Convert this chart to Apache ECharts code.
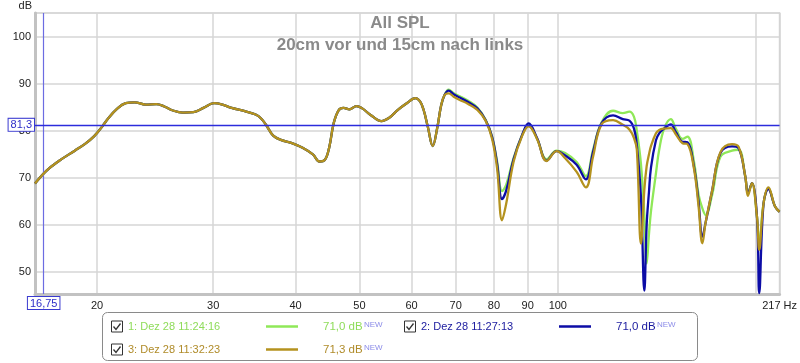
<!DOCTYPE html>
<html><head><meta charset="utf-8">
<script src="https://cdn.jsdelivr.net/npm/echarts@6/dist/echarts.min.js"></script>
<style>html,body{margin:0;padding:0;background:#fff}#c{width:800px;height:363px}</style>
</head><body><div id="c"></div>
<script>
// Frequencies (Hz)
const freqHz = [
  16.1, 16.75, 17.5, 18.5, 19.2, 19.8, 20.3, 20.8, 21.4, 22.1, 22.8, 23.7, 24.6, 25.3, 26.0, 27.0, 28.0, 29.0, 30.1, 31.0,
  32.0, 33.5, 34.8, 35.5, 36.2, 37.0, 38.0, 39.5, 41.0, 42.5, 43.5, 44.3, 45.0, 45.7, 46.5, 47.3, 48.3, 49.5, 50.5, 52.0,
  54.0, 55.5, 57.2, 59.0, 60.8, 61.8, 62.6, 63.5, 64.6, 65.6, 66.5, 67.3,
  68.3, 69.5, 71.0, 73.0, 75.5, 77.7, 79.5, 80.9, 82.3, 83.5, 85.7, 88.2, 90.3, 93.0, 96.2, 99.6, 102.6, 106.8, 110.3, 113.1,
  116.5, 121.3, 125.5, 128.4, 130.5, 131.8, 133.7, 135.3, 136.4, 137.5, 138.5, 140.9, 142.5, 145.0, 148.4, 151.0, 154.6, 157.3,
  160.9, 163.5, 165.7, 167.6, 171.5, 176.5, 183.8, 188.1, 192.5, 194.3, 197.0, 200.5, 202.1, 205.2, 208.7, 213.6, 217
];
// SPL below ~68 Hz (all three measurements coincide)
const commonSPL = [
  68.8, 71.5, 73.6, 75.8, 77.3, 78.9, 80.7, 82.7, 84.6, 85.9, 86.1, 85.6, 85.7, 85.2, 84.4, 83.9, 84.0, 84.9, 85.9, 85.6,
  84.9, 84.2, 83.5, 82.6, 81.0, 79.0, 78.1, 77.4, 76.4, 75.0, 73.5, 73.8, 76.5, 81.6, 84.4, 84.9, 84.6, 85.3, 84.8, 83.4,
  82.1, 82.8, 84.5, 85.9, 87.0, 86.3, 84.4, 80.9, 76.8, 80.5, 85.3, 87.6
];
// SPL from 68 Hz upward, per measurement
const spl1High = [ // 1: Dez 28 11:24:16 (green)
  88.8, 88.0, 87.4, 86.5, 85.0, 82.4, 78.8, 73.5, 67.2, 68.5, 74.3, 79.0, 81.4, 78.4, 74.0, 75.8, 75.3, 73.4, 70.4, 76.0,
  81.8, 84.3, 83.8, 84.1, 83.0, 80.0, 73.0, 62.0, 51.8, 58.0, 63.0, 71.0, 76.0, 80.5, 82.5, 80.5, 78.3, 78.8, 73.5, 66.5,
  63.5, 62.1, 66.5, 74.5, 75.8, 76.0, 70.3, 66.8, 68.9, 61.8, 56.0, 64.6, 67.8, 63.9, 62.8
];
const spl2High = [ // 2: Dez 28 11:27:13 (blue)
  88.6, 87.8, 87.1, 86.2, 84.8, 82.3, 78.7, 73.0, 65.5, 67.3, 74.0, 79.0, 81.6, 78.5, 73.7, 75.7, 74.8, 72.8, 69.7, 75.5,
  81.6, 83.3, 82.5, 82.2, 80.5, 77.0, 66.0, 46.0, 60.0, 67.0, 72.3, 78.0, 79.5, 80.5, 81.4, 79.8, 77.7, 77.6, 72.4, 65.0,
  57.5, 60.5, 67.4, 75.3, 76.7, 76.3, 70.3, 66.7, 68.9, 61.8, 45.5, 64.6, 67.6, 63.9, 62.8
];
const spl3High = [ // 3: Dez 28 11:32:23 (gold)
  88.0, 87.3, 86.6, 85.8, 84.5, 82.2, 78.3, 72.0, 61.0, 64.5, 73.5, 78.8, 81.0, 78.3, 73.6, 75.7, 74.2, 71.3, 68.0, 74.5,
  81.4, 82.3, 81.3, 80.3, 78.5, 76.0, 56.0, 67.5, 72.5, 75.0, 76.8, 79.5, 80.2, 80.5, 80.6, 79.3, 77.4, 77.2, 72.0, 64.0,
  56.1, 60.5, 67.4, 75.5, 77.2, 76.6, 70.3, 66.2, 68.9, 61.8, 54.7, 64.6, 68.0, 63.9, 62.8
];
const xGridHz = [20, 30, 40, 50, 60, 70, 80, 90, 100, 200, 217];
const xLabelHz = [20, 30, 40, 50, 60, 70, 80, 90, 100, 217];
const yTicks = [50, 60, 70, 80, 90, 100];
const xRangeHz = [16.1, 217];
const yRange = [45.3, 105.1];
const cursorHz = 16.75;
const cursorDb = 81.3;
const seriesNames = ['1: Dez 28 11:24:16', '2: Dez 28 11:27:13', '3: Dez 28 11:32:23'];
const seriesLevels = ['71,0 dB', '71,0 dB', '71,3 dB'];
const seriesColors = ['#8fe858', '#0c0ca6', '#b4921e'];
const textColors = ['#8fdc5a', '#1a1a9e', '#b08c2a'];

const FONT = '"Liberation Sans", Arial, sans-serif';
const lg = Math.log10;
function pts(high) {
  const vals = commonSPL.concat(high);
  return freqHz.map((f, i) => [lg(f), vals[i]]);
}
const highs = [spl1High, spl2High, spl3High];

const series = highs.map((h, i) => ({
  name: seriesNames[i],
  type: 'line',
  data: pts(h),
  showSymbol: false,
  smooth: 0.4,
  lineStyle: { color: seriesColors[i], width: 2.3 },
  z: 3 + i,
  animation: false
}));

const boxLabel = {
  show: true, position: 'start', color: '#2e2ec8', fontSize: 11, fontFamily: FONT,
  backgroundColor: '#fff', borderColor: '#3a3ad0', borderWidth: 1, padding: [1, 2, 0, 2]
};
// vertical cursor
series[2].markLine = {
  silent: true, symbol: 'none', animation: false,
  lineStyle: { color: '#6c6ce2', width: 1.2, type: 'solid', opacity: 1 },
  data: [ { xAxis: lg(cursorHz),
    label: Object.assign({}, boxLabel, { formatter: cursorHz.toFixed(2).replace('.', ','), distance: 3 }) } ]
};
// horizontal cursor
series[1].markLine = {
  silent: true, symbol: 'none', animation: false, z: 10,
  lineStyle: { color: '#2c2cdc', width: 1.3, type: 'solid', opacity: 1 },
  data: [ { yAxis: cursorDb,
    label: Object.assign({}, boxLabel, { formatter: cursorDb.toFixed(1).replace('.', ','), distance: 1 }) } ]
};

// Legend (graphic)
const legendEls = [];
legendEls.push({ type: 'rect', shape: { x: 102.5, y: 312.5, width: 595, height: 48, r: 5 },
  style: { fill: '#fff', stroke: '#8a8a8a', lineWidth: 1 } });
const slots = [ { x: 111, y: 326.5 }, { x: 404, y: 326.5 }, { x: 111, y: 349.5 } ];
slots.forEach((s, i) => {
  legendEls.push({ type: 'rect', shape: { x: s.x + 0.5, y: s.y - 5.5, width: 11, height: 11 },
    style: { fill: '#fff', stroke: '#333', lineWidth: 1 } });
  legendEls.push({ type: 'polyline', shape: { points: [[s.x + 2.5, s.y], [s.x + 5, s.y + 3], [s.x + 9.5, s.y - 3]] },
    style: { stroke: '#333', lineWidth: 1.3, fill: null } });
  legendEls.push({ type: 'text', x: s.x + 17, y: s.y, style: { text: seriesNames[i], fill: textColors[i],
    font: '11px ' + FONT, verticalAlign: 'middle' } });
  legendEls.push({ type: 'line', shape: { x1: s.x + 155, y1: s.y, x2: s.x + 187, y2: s.y },
    style: { stroke: seriesColors[i], lineWidth: 2.5 } });
  legendEls.push({ type: 'text', x: s.x + 212, y: s.y, style: { text: seriesLevels[i], fill: textColors[i],
    font: '11.5px ' + FONT, verticalAlign: 'middle' } });
  legendEls.push({ type: 'text', x: s.x + 253, y: s.y - 6, style: { text: 'NEW', fill: '#8c8ce8',
    font: '8px ' + FONT, verticalAlign: 'top' } });
});

const chart = echarts.init(document.getElementById('c'), null, { renderer: 'canvas' });
chart.setOption({
  animation: false,
  backgroundColor: '#fff',
  title: {
    text: 'All SPL\n20cm vor und 15cm nach links',
    left: 'center', top: 7,
    textStyle: { fontSize: 17, fontWeight: 'bold', color: '#8a8a8a', lineHeight: 22, fontFamily: FONT }
  },
  grid: { left: 35, right: 16, top: 13, bottom: 69, show: true, borderColor: '#cdcdcd', borderWidth: 1.5 },
  xAxis: {
    type: 'value', min: lg(xRangeHz[0]), max: lg(xRangeHz[1]),
    axisLine: { show: true, onZero: false, lineStyle: { color: '#c2c2c2', width: 3 } },
    axisTick: { show: false, customValues: xGridHz.map(lg) },
    axisLabel: {
      customValues: xLabelHz.map(lg), color: '#222', fontSize: 11, fontFamily: FONT, margin: 6,
      formatter: v => { const f = Math.round(Math.pow(10, v)); return f === xLabelHz[xLabelHz.length - 1] ? f + ' Hz' : String(f); }
    },
    splitLine: { show: true, lineStyle: { color: '#d6d6d6', width: 1.5 } }
  },
  yAxis: {
    type: 'value', min: yRange[0], max: yRange[1],
    name: 'dB', nameLocation: 'end', nameGap: 2,
    nameTextStyle: { color: '#222', fontSize: 11, fontFamily: FONT, align: 'right', verticalAlign: 'bottom', padding: [0, 3, 0, 0] },
    axisLine: { show: true, lineStyle: { color: '#c2c2c2', width: 3 } },
    axisTick: { show: false, customValues: yTicks },
    axisLabel: { customValues: yTicks, color: '#222', fontSize: 11, fontFamily: FONT, margin: 4 },
    splitLine: { show: true, lineStyle: { color: '#d6d6d6', width: 1.5 } }
  },
  series: series,
  graphic: legendEls
});
</script>
</body></html>
